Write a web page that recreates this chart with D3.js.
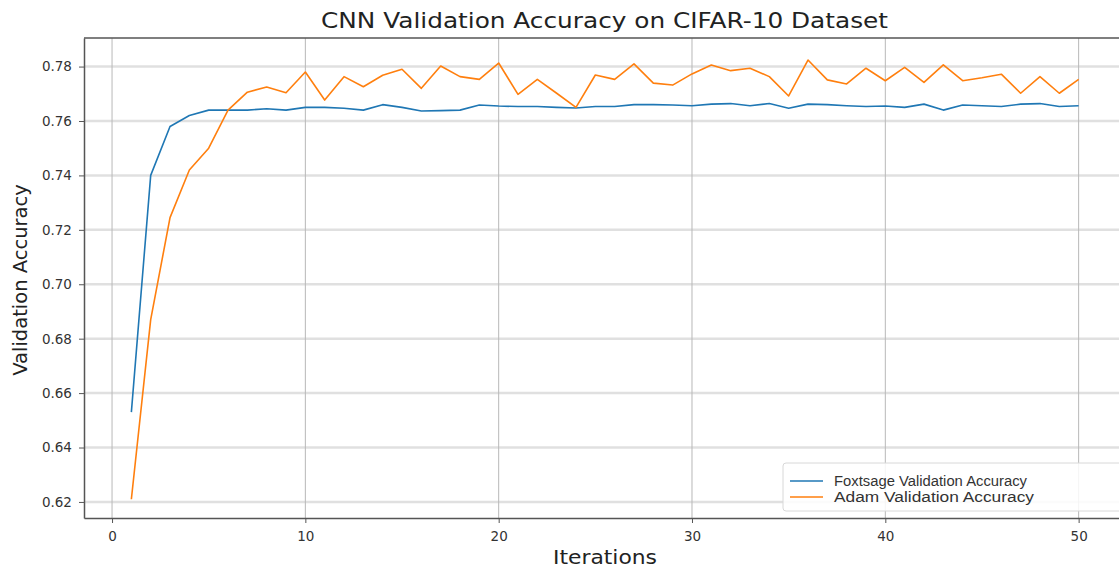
<!DOCTYPE html>
<html>
<head>
<meta charset="utf-8">
<script src="https://cdn.jsdelivr.net/npm/d3@7"></script>
<style>
  body { margin: 0; background: #fff; }
  svg { display: block; }
</style>
</head>
<body>
<div id="chart"></div>
<script>
var iterations = d3.range(1, 51);

var foxtsage = [0.653, 0.740, 0.758, 0.762, 0.764, 0.764, 0.764, 0.7645, 0.764, 0.765,
  0.765, 0.7647, 0.764, 0.766, 0.765, 0.7637, 0.7638, 0.764, 0.7659, 0.7655,
  0.7653, 0.7653, 0.765, 0.7648, 0.7653, 0.7653, 0.766, 0.766, 0.7659, 0.7656,
  0.7662, 0.7664, 0.7656, 0.7664, 0.7647, 0.7662, 0.766, 0.7656, 0.7653, 0.7655,
  0.765, 0.7662, 0.764, 0.7659, 0.7656, 0.7653, 0.7662, 0.7664, 0.7653, 0.7656];

var adam = [0.621, 0.687, 0.7245, 0.742, 0.750, 0.764, 0.7706, 0.7725, 0.7704, 0.778,
  0.7677, 0.7763, 0.7726, 0.7768, 0.779, 0.772, 0.7802, 0.7763, 0.7753, 0.7813,
  0.7698, 0.7753, 0.7702, 0.765, 0.7769, 0.7753, 0.781, 0.7739, 0.7732, 0.7773,
  0.7806, 0.7785, 0.7794, 0.7763, 0.7692, 0.7824, 0.7751, 0.7736, 0.7794, 0.7748,
  0.7797, 0.7742, 0.7806, 0.7748, 0.7759, 0.7772, 0.7702, 0.7763, 0.7702, 0.7753];

var xTicks = [0, 10, 20, 30, 40, 50];
var yTicks = [0.62, 0.64, 0.66, 0.68, 0.70, 0.72, 0.74, 0.76, 0.78];
var seriesNames = ["Foxtsage Validation Accuracy", "Adam Validation Accuracy"];
var colors = ["#1f77b4", "#ff7f0e"];

var W = 1119, H = 571;
var pLeft = 84, pTop = 38, pRight = 1126, pBottom = 518;

var svg = d3.select("#chart").append("svg")
  .attr("width", W)
  .attr("height", H);

var x = d3.scaleLinear().domain([-1.45, 52.45]).range([pLeft, pRight]);
var y = d3.scaleLinear().domain([0.6141, 0.7905]).range([pBottom, pTop]);

// grid
svg.append("g").selectAll("line")
  .data(yTicks).enter().append("line")
  .attr("x1", pLeft).attr("x2", pRight)
  .attr("y1", function(d) { return y(d); })
  .attr("y2", function(d) { return y(d); })
  .attr("stroke", "#e0e0e0")
  .attr("stroke-width", 2.5);

svg.append("g").selectAll("line")
  .data(xTicks).enter().append("line")
  .attr("x1", function(d) { return x(d); })
  .attr("x2", function(d) { return x(d); })
  .attr("y1", pTop).attr("y2", pBottom)
  .attr("stroke", "#b8b8b8")
  .attr("stroke-width", 1);

// axes
var xAxis = svg.append("g")
  .attr("transform", "translate(0," + pBottom + ")")
  .call(d3.axisBottom(x).tickValues(xTicks).tickFormat(d3.format("d")).tickSize(5).tickSizeOuter(0));
var yAxis = svg.append("g")
  .attr("transform", "translate(" + pLeft + ",0)")
  .call(d3.axisLeft(y).tickValues(yTicks).tickFormat(d3.format(".2f")).tickSize(5).tickSizeOuter(0));

[xAxis, yAxis].forEach(function(a) {
  a.select(".domain").attr("stroke", "#555").attr("stroke-width", 1.5);
  a.selectAll(".tick line").attr("stroke", "#555");
  a.selectAll(".tick text")
    .attr("font-family", "DejaVu Sans")
    .attr("font-size", "13.5px")
    .attr("fill", "#333");
});
xAxis.selectAll(".tick text").attr("dy", "1.1em");
yAxis.selectAll(".tick text").attr("dx", "-0.3em");

// top spine
svg.append("line")
  .attr("x1", pLeft).attr("x2", pRight)
  .attr("y1", pTop).attr("y2", pTop)
  .attr("stroke", "#555").attr("stroke-width", 1.5);

// lines
var line = d3.line()
  .x(function(d) { return x(d[0]); })
  .y(function(d) { return y(d[1]); });

[foxtsage, adam].forEach(function(s, i) {
  svg.append("path")
    .datum(iterations.map(function(it, j) { return [it, s[j]]; }))
    .attr("fill", "none")
    .attr("stroke", colors[i])
    .attr("stroke-width", 1.6)
    .attr("stroke-linejoin", "round")
    .attr("d", line);
});

// title and labels
svg.append("text")
  .attr("x", 321).attr("y", 28)
  .attr("textLength", 567)
  .attr("lengthAdjust", "spacingAndGlyphs")
  .attr("font-family", "DejaVu Sans")
  .attr("font-size", "22px")
  .attr("fill", "#222")
  .text("CNN Validation Accuracy on CIFAR-10 Dataset");

svg.append("text")
  .attr("x", 553).attr("y", 564)
  .attr("textLength", 104)
  .attr("lengthAdjust", "spacingAndGlyphs")
  .attr("font-family", "DejaVu Sans")
  .attr("font-size", "19px")
  .attr("fill", "#222")
  .text("Iterations");

svg.append("text")
  .attr("transform", "translate(27,280) rotate(-90)")
  .attr("text-anchor", "middle")
  .attr("font-family", "DejaVu Sans")
  .attr("font-size", "19.5px")
  .attr("fill", "#222")
  .text("Validation Accuracy");

// legend
var lg = svg.append("g").attr("transform", "translate(783,463)");
lg.append("rect")
  .attr("width", 350).attr("height", 48)
  .attr("rx", 3)
  .attr("fill", "#fff")
  .attr("fill-opacity", 0.85)
  .attr("stroke", "#d8d8d8");
var legendLens = [193, 200];
seriesNames.forEach(function(n, i) {
  lg.append("line")
    .attr("x1", 7).attr("x2", 40)
    .attr("y1", 18 + i * 16).attr("y2", 18 + i * 16)
    .attr("stroke", colors[i]).attr("stroke-width", 1.6);
  lg.append("text")
    .attr("x", 51).attr("y", 23 + i * 16)
    .attr("textLength", legendLens[i])
    .attr("lengthAdjust", "spacingAndGlyphs")
    .attr("font-family", "Liberation Sans")
    .attr("font-size", "14px")
    .attr("fill", "#333")
    .text(n);
});
</script>
</body>
</html>
